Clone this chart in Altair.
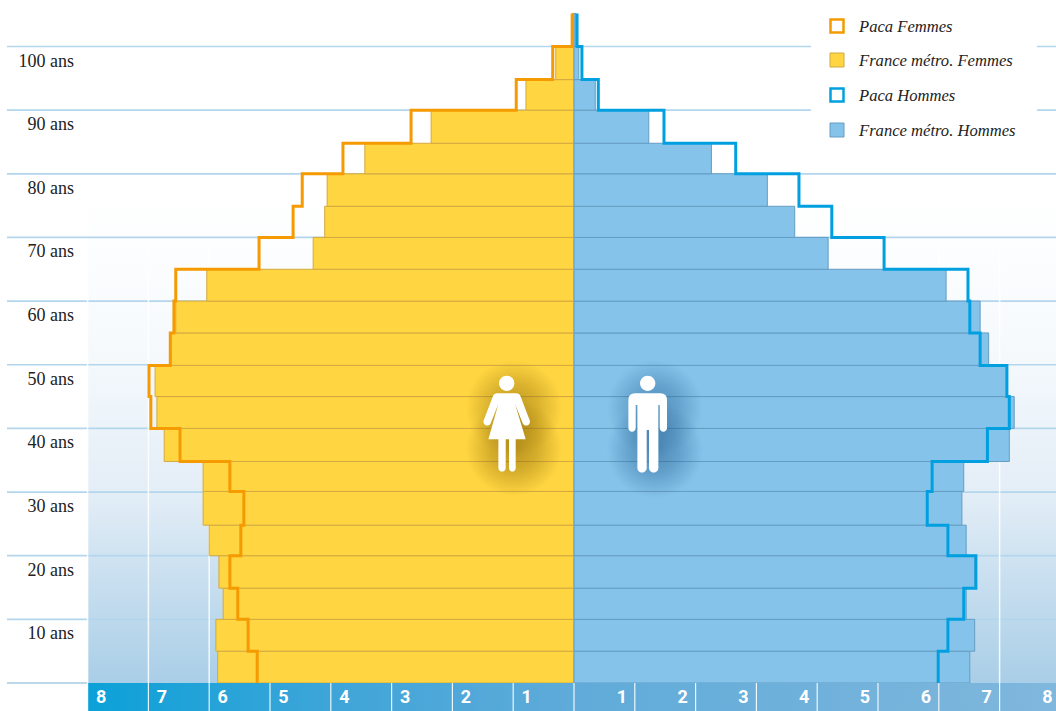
import altair as alt
import pandas as pd

# Age band edges, read bottom to top (21 bands)
band_edges = [0, 5.0, 10, 14.9, 20, 24.8, 30.1, 34.8, 40, 45, 49.9, 55, 60, 65, 70,
              74.9, 80, 84.8, 90, 94.8, 100, 105.2]

# Share of the population per band, in % of the total
france_f = [5.86, 5.89, 5.77, 5.84, 6.00, 6.10, 6.10, 6.74, 6.86, 6.89, 6.63, 6.55,
            6.04, 4.29, 4.10, 4.06, 3.44, 2.35, 0.79, 0.30, 0.03]
paca_f = [5.21, 5.36, 5.53, 5.66, 5.48, 5.43, 5.66, 6.48, 6.96, 6.99, 6.64, 6.58,
          6.55, 5.18, 4.62, 4.47, 3.80, 2.68, 0.95, 0.35, 0.03]
france_h = [6.51, 6.59, 6.45, 6.59, 6.45, 6.38, 6.41, 7.16, 7.24, 7.12, 6.82, 6.68,
            6.12, 4.18, 3.63, 3.18, 2.26, 1.23, 0.35, 0.08, 0.03]
paca_h = [5.99, 6.15, 6.41, 6.61, 6.15, 5.81, 5.89, 6.80, 7.16, 7.12, 6.68, 6.51,
          6.48, 5.10, 4.24, 3.70, 2.66, 1.48, 0.40, 0.13, 0.05]

decades = [10, 20, 30, 40, 50, 60, 70, 80, 90, 100]
ticks = [1, 2, 3, 4, 5, 6, 7, 8]
legend_labels = ["Paca Femmes", "France métro. Femmes", "Paca Hommes", "France métro. Hommes"]

YELLOW, YELLOW_EDGE = "#ffd541", "#d3a940"
SKY, SKY_EDGE = "#85c3ea", "#659dc2"
ORANGE, CYAN = "#f59a00", "#00a0e0"
GRID = "#b4d6ec"
SERIF = "Liberation Serif"

W, H = 1056, 711
xs = alt.Scale(domain=[-574 / 60.8, (W - 574) / 60.8], nice=False, zero=False)
ys = alt.Scale(domain=[(683 - 711) / 6.365, 683 / 6.365], nice=False, zero=False)


def X(field="x"):
    return alt.X(f"{field}:Q", scale=xs, axis=None)


def Y(field="y"):
    return alt.Y(f"{field}:Q", scale=ys, axis=None)


def bars_frame(values, sign):
    return pd.DataFrame({
        "x": [sign * v for v in values],
        "x0": [0] * len(values),
        "y": band_edges[:-1],
        "y2": band_edges[1:],
    })


def outline_frame(values, sign):
    rows = []
    for i, v in enumerate(values):
        rows.append({"x": sign * v, "y": band_edges[i], "o": 2 * i})
        rows.append({"x": sign * v, "y": band_edges[i + 1], "o": 2 * i + 1})
    return pd.DataFrame(rows)


def bars(values, sign, fill, edge):
    return alt.Chart(bars_frame(values, sign)).mark_rect(
        fill=fill, stroke=edge, strokeWidth=1
    ).encode(x=X(), x2="x0:Q", y=Y(), y2="y2:Q")


def outline(values, sign, color):
    return alt.Chart(outline_frame(values, sign)).mark_line(
        color=color, strokeWidth=3, strokeJoin="miter"
    ).encode(x=X(), y=Y(), order="o:Q")


def panel_rect(x0, x1, y0, y1, **style):
    return alt.Chart(pd.DataFrame({"k": [0]})).mark_rect(**style).encode(
        x=alt.value(x0), x2=alt.value(x1), y=alt.value(y0), y2=alt.value(y1)
    )


# Pale blue wash behind the pyramid, deepening towards the base
wash = panel_rect(88, W, 200, 683, fill={
    "gradient": "linear", "x1": 0, "y1": 0, "x2": 0, "y2": 1,
    "stops": [
        {"offset": 0, "color": "#ffffff"},
        {"offset": 0.3, "color": "#f6fafd"},
        {"offset": 0.6, "color": "#e4eef7"},
        {"offset": 1, "color": "#a9cee7"},
    ],
})

grid = alt.Chart(pd.DataFrame({"y": decades})).mark_rule(color=GRID, strokeWidth=1.7).encode(
    x=alt.value(7), x2=alt.value(W), y=Y()
)
base_rule = alt.Chart(pd.DataFrame({"y": [0]})).mark_rule(color="#bcd9ec", strokeWidth=2).encode(
    x=alt.value(7), x2=alt.value(88), y=Y()
)
legend_box = panel_rect(811, 1037, 0, 140, fill="#ffffff")

v_rules = alt.Chart(pd.DataFrame({"x": [-8, -7, -6, 6, 7, 8]})).mark_rule(
    color="#ffffff", strokeWidth=1.5, opacity=0.85
).encode(x=X(), y=alt.value(250), y2=alt.value(683))


# Soft drop glows behind the two pictograms: two overlapping discs stretch each one vertically
def glow(cx, cy, r, rgb, peak):
    return panel_rect(cx - r, cx + r, cy - r, cy + r, fill={
        "gradient": "radial", "x1": 0.5, "y1": 0.5, "r1": 0, "x2": 0.5, "y2": 0.5, "r2": 0.5,
        "stops": [
            {"offset": 0, "color": f"rgba({rgb},{peak})"},
            {"offset": 0.5, "color": f"rgba({rgb},{peak * 0.6})"},
            {"offset": 1, "color": f"rgba({rgb},0)"},
        ],
    })


glows = [
    glow(514, 408, 48, "130,95,0", 0.5),
    glow(514, 448, 48, "130,95,0", 0.55),
    glow(655, 408, 48, "30,90,140", 0.5),
    glow(655, 450, 48, "30,90,140", 0.55),
]

HEAD = "M-23,-120 A23,23 0 1 1 23,-120 A23,23 0 1 1 -23,-120 Z "
WOMAN = HEAD + (
    "M-28,-90 L28,-90 Q38,-90 42,-80 L69,-9 A11,11 0 0 1 48,0 L25,-58 L57,48 "
    "L27,48 L27,134 A10,11 0 0 1 7,134 L7,48 L-3,48 L-3,134 A11,11 0 0 1 -25,134 L-25,48 "
    "L-55,48 L-25,-58 L-48,0 A11,11 0 0 1 -69,-9 L-42,-80 Q-38,-90 -28,-90 Z"
)
MAN = HEAD + (
    "M-38,-90 L38,-90 Q58,-90 58,-70 L58,14 A11,11 0 0 1 36,14 L36,-55 L32,-55 L32,134 "
    "A14,14 0 0 1 4,134 L4,20 L-3,20 L-3,134 A14,14 0 0 1 -31,134 L-31,-55 L-36,-55 L-36,14 "
    "A11,11 0 0 1 -58,14 L-58,-70 Q-58,-90 -38,-90 Z"
)


def pictogram(path, px):
    return alt.Chart(pd.DataFrame({"k": [0]})).mark_point(
        shape=path, size=0.444, filled=True, fill="#ffffff", opacity=1, strokeWidth=0
    ).encode(x=alt.value(px), y=alt.value(423.3))


strip = panel_rect(88, W, 683, H, fill={
    "gradient": "linear", "x1": 0, "y1": 0, "x2": 1, "y2": 0,
    "stops": [
        {"offset": 0, "color": "#0ba1d8"},
        {"offset": 0.25, "color": "#3ea5d8"},
        {"offset": 0.5, "color": "#5fabd9"},
        {"offset": 1, "color": "#80b7dd"},
    ],
})
strip_ticks = alt.Chart(pd.DataFrame({"x": [-t for t in ticks] + [0] + ticks})).mark_rule(
    color="#ffffff", strokeWidth=1.2, opacity=0.9
).encode(x=X(), y=alt.value(683), y2=alt.value(H))

tick_style = dict(font="Roboto", fontSize=18, fontWeight="bold", color="#ffffff",
                  baseline="middle", align="center")
ticks_left = alt.Chart(pd.DataFrame({"x": [-t for t in ticks], "t": ticks})).mark_text(
    dx=13.5, **tick_style).encode(x=X(), y=alt.value(698), text="t:N")
ticks_right = alt.Chart(pd.DataFrame({"x": ticks, "t": ticks})).mark_text(
    dx=-13, **tick_style).encode(x=X(), y=alt.value(698), text="t:N")

age_text = alt.Chart(pd.DataFrame({"y": decades, "t": [f"{d} ans" for d in decades]})).mark_text(
    font=SERIF, fontSize=18, color="#222222", align="right", baseline="middle", dy=15
).encode(x=alt.value(74), y=Y(), text="t:N")

# Hand-placed key in the upper right corner
key_y = [26, 60, 95, 130]
key_swatches = [
    ("#ffffff", ORANGE, 2.5, 13),
    (YELLOW, YELLOW_EDGE, 1, 14),
    ("#ffffff", CYAN, 2.5, 13),
    (SKY, SKY_EDGE, 1, 14),
]
key_layers = []
for label, yp, (fill, edge, sw, side) in zip(legend_labels, key_y, key_swatches):
    key_layers.append(
        alt.Chart(pd.DataFrame({"k": [0]})).mark_square(
            fill=fill, stroke=edge, strokeWidth=sw, size=side * side, opacity=1
        ).encode(x=alt.value(837), y=alt.value(yp))
    )
    key_layers.append(
        alt.Chart(pd.DataFrame({"t": [label]})).mark_text(
            font=SERIF, fontSize=16.6, fontStyle="italic", color="#222222",
            align="left", baseline="middle"
        ).encode(x=alt.value(859), y=alt.value(yp + 0.5), text="t:N")
    )

chart = alt.layer(
    wash, grid, base_rule, legend_box, v_rules,
    bars(france_f, -1, YELLOW, YELLOW_EDGE),
    bars(france_h, 1, SKY, SKY_EDGE),
    outline(paca_f, -1, ORANGE),
    outline(paca_h, 1, CYAN),
    *glows,
    pictogram(WOMAN, 506.7), pictogram(MAN, 647.7),
    strip, strip_ticks, ticks_left, ticks_right, age_text,
    *key_layers,
).properties(
    width=W, height=H, padding=0, autosize=alt.AutoSizeParams(type="none"),
    background="#ffffff",
).configure_view(stroke=None)

chart.save("out.html", embed_options={"renderer": "svg", "actions": False})
